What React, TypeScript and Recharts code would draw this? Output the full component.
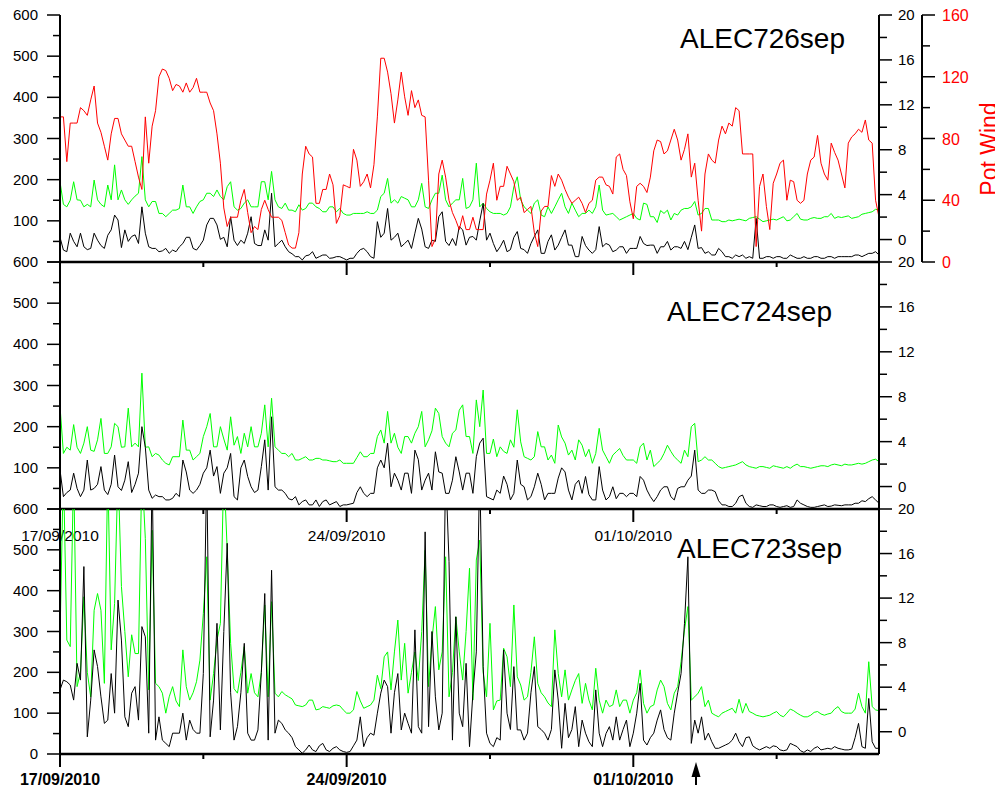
import React from "react";
import { LineChart, Line, XAxis, YAxis } from "recharts";

// one sample every 2 hours, starting 17/09/2010 00:00
const STEP_HOURS = 2;

const dateTicks = [0, 3.5, 7, 10.5, 14, 17.5];
const dateLabels: Record<number, string> = { 0: "17/09/2010", 7: "24/09/2010", 14: "01/10/2010" };
const leftTicks = [0, 50, 100, 150, 200, 250, 300, 350, 400, 450, 500, 550, 600];
const rightTicks = [0, 2, 4, 6, 8, 10, 12, 14, 16, 18, 20];
const windTicks = [0, 20, 40, 60, 80, 100, 120, 140, 160];

// ALEC726sep
const green726 = [
  195, 140, 134, 150, 195, 151, 150, 134, 140, 134, 199, 151, 140, 134, 187, 151, 236, 151, 175, 151,
  140, 151, 160, 167, 256, 151, 134, 147, 147, 118, 118, 110, 118, 126, 126, 130, 187, 134, 134, 118,
  134, 147, 151, 167, 167, 159, 175, 159, 151, 183, 195, 134, 126, 130, 143, 151, 134, 134, 134, 195,
  195, 151, 220, 151, 134, 130, 143, 126, 126, 122, 139, 126, 130, 143, 143, 134, 130, 122, 122, 134,
  134, 122, 130, 118, 114, 114, 118, 118, 118, 118, 122, 118, 118, 126, 159, 167, 203, 143, 151, 143,
  159, 155, 151, 134, 134, 151, 191, 134, 130, 151, 167, 167, 211, 151, 134, 143, 151, 151, 203, 130,
  134, 151, 240, 134, 143, 130, 122, 118, 118, 118, 114, 118, 134, 183, 207, 151, 134, 126, 118, 143,
  151, 114, 110, 134, 118, 134, 151, 167, 134, 118, 143, 126, 110, 118, 118, 126, 118, 134, 187, 126,
  114, 116, 118, 110, 102, 106, 110, 114, 118, 106, 102, 143, 140, 110, 110, 96, 125, 118, 126, 102,
  118, 114, 126, 130, 130, 134, 147, 114, 118, 130, 130, 102, 102, 102, 98, 98, 102, 100, 102, 104,
  102, 100, 106, 108, 110, 104, 98, 100, 102, 104, 102, 106, 110, 100, 102, 110, 118, 104, 102, 102,
  106, 108, 106, 106, 110, 110, 118, 106, 110, 108, 110, 112, 106, 108, 110, 116, 118, 120, 122, 128,
  126,
];
const black726 = [
  60, 29, 25, 70, 50, 37, 70, 37, 30, 33, 70, 53, 40, 33, 65, 78, 114, 102, 35, 78,
  50, 62, 66, 45, 134, 70, 37, 33, 33, 25, 27, 33, 21, 29, 25, 37, 45, 60, 60, 33,
  29, 40, 53, 90, 106, 106, 90, 55, 60, 37, 110, 53, 40, 53, 45, 70, 110, 45, 40, 40,
  78, 53, 167, 37, 45, 53, 37, 25, 20, 13, 13, 5, 15, 17, 25, 9, 13, 17, 17, 9,
  10, 13, 13, 9, 5, 9, 9, 21, 30, 33, 25, 13, 9, 98, 60, 70, 130, 53, 60, 70,
  37, 45, 53, 33, 70, 106, 80, 37, 33, 53, 50, 110, 122, 50, 40, 57, 40, 86, 78, 41,
  60, 62, 53, 100, 142, 53, 70, 45, 25, 37, 53, 25, 30, 60, 74, 33, 30, 21, 45, 62,
  78, 21, 21, 50, 66, 29, 41, 60, 78, 41, 41, 13, 13, 62, 40, 29, 21, 30, 86, 37,
  45, 41, 25, 29, 37, 37, 21, 33, 33, 33, 62, 45, 40, 41, 41, 21, 37, 37, 50, 29,
  37, 37, 33, 50, 30, 60, 90, 33, 35, 21, 25, 17, 17, 33, 25, 13, 13, 9, 17, 13,
  17, 9, 13, 9, 106, 9, 9, 13, 13, 9, 13, 13, 9, 9, 17, 13, 9, 9, 13, 9,
  9, 13, 13, 9, 9, 13, 13, 9, 13, 13, 13, 13, 13, 17, 17, 13, 17, 21, 21, 25,
  17,
];
const potWind726 = [
  94, 94, 65, 90, 90, 90, 100, 98, 95, 105, 114, 90, 84, 75, 66, 83, 93, 93, 83, 79,
  75, 75, 65, 55, 47, 94, 64, 88, 98, 120, 125, 124, 119, 111, 115, 114, 110, 116, 110, 113,
  119, 110, 110, 110, 103, 98, 83, 64, 35, 23, 29, 29, 29, 40, 47, 32, 19, 23, 21, 34,
  40, 34, 29, 29, 29, 27, 19, 11, 9, 9, 19, 57, 75, 70, 68, 38, 38, 47, 47, 57,
  50, 25, 30, 50, 49, 48, 73, 66, 49, 52, 57, 48, 63, 94, 132, 132, 123, 109, 90, 105,
  123, 107, 95, 111, 100, 105, 95, 94, 53, 10, 15, 57, 66, 55, 40, 32, 27, 21, 30, 21,
  21, 29, 21, 21, 21, 44, 53, 64, 40, 49, 49, 62, 57, 52, 40, 42, 32, 34, 36, 19,
  10, 33, 36, 36, 56, 49, 57, 53, 47, 42, 38, 40, 42, 38, 32, 38, 40, 53, 55, 55,
  50, 49, 44, 68, 70, 60, 56, 39, 28, 49, 51, 49, 45, 55, 72, 79, 78, 70, 72, 79,
  86, 79, 66, 73, 83, 55, 64, 40, 20, 57, 70, 66, 64, 79, 88, 83, 90, 88, 100, 98,
  70, 70, 70, 70, 10, 49, 57, 36, 21, 51, 57, 64, 66, 40, 53, 52, 40, 38, 40, 57,
  66, 68, 82, 64, 57, 53, 77, 71, 66, 57, 48, 77, 81, 83, 86, 84, 92, 79, 77, 40,
  29,
];

// ALEC724sep
const green724 = [
  250, 135, 150, 143, 205, 150, 135, 160, 200, 143, 140, 168, 220, 135, 135, 151, 208, 200, 150, 151,
  245, 151, 160, 151, 330, 150, 151, 127, 135, 131, 119, 111, 107, 127, 127, 127, 216, 143, 143, 119,
  127, 135, 176, 200, 232, 151, 151, 200, 170, 143, 224, 155, 176, 135, 184, 151, 200, 151, 151, 184,
  253, 151, 269, 151, 143, 135, 135, 127, 135, 119, 119, 123, 127, 119, 119, 123, 123, 119, 119, 117,
  115, 115, 119, 111, 111, 111, 111, 125, 139, 127, 127, 135, 135, 176, 192, 160, 237, 160, 184, 150,
  135, 176, 176, 160, 184, 200, 237, 151, 168, 190, 245, 232, 176, 160, 151, 184, 192, 240, 253, 176,
  176, 135, 265, 200, 289, 135, 135, 170, 127, 151, 140, 135, 168, 150, 241, 163, 127, 123, 119, 127,
  188, 151, 151, 119, 131, 111, 204, 175, 160, 131, 143, 119, 168, 155, 127, 145, 111, 135, 196, 143,
  127, 111, 131, 139, 147, 130, 119, 119, 119, 111, 151, 160, 119, 143, 103, 111, 119, 135, 155, 140,
  127, 119, 111, 143, 127, 200, 208, 115, 119, 127, 119, 119, 111, 103, 99, 101, 103, 105, 107, 111,
  115, 107, 103, 101, 99, 103, 103, 101, 99, 105, 103, 101, 99, 103, 99, 105, 109, 103, 103, 101,
  99, 101, 103, 105, 105, 103, 107, 109, 107, 105, 109, 107, 107, 109, 111, 109, 111, 115, 119, 121,
  115,
];
const black724 = [
  95, 30, 40, 46, 87, 50, 30, 46, 119, 46, 50, 60, 103, 46, 35, 60, 131, 54, 45, 70,
  115, 40, 60, 87, 200, 150, 46, 26, 34, 30, 30, 22, 22, 26, 38, 30, 119, 90, 46, 38,
  46, 60, 87, 100, 143, 80, 103, 38, 87, 100, 135, 30, 22, 100, 119, 79, 54, 40, 46, 103,
  168, 46, 224, 54, 46, 46, 38, 25, 22, 30, 10, 18, 22, 10, 10, 22, 6, 18, 22, 10,
  14, 18, 6, 10, 10, 12, 14, 40, 54, 38, 30, 38, 38, 100, 119, 100, 160, 54, 87, 70,
  46, 87, 87, 38, 143, 120, 46, 70, 87, 46, 139, 90, 87, 38, 38, 70, 127, 90, 46, 87,
  87, 38, 127, 160, 172, 30, 26, 22, 46, 38, 80, 60, 22, 38, 119, 60, 54, 22, 30, 54,
  87, 60, 22, 38, 38, 38, 75, 100, 90, 46, 22, 60, 70, 38, 79, 35, 22, 22, 103, 46,
  22, 30, 54, 25, 38, 38, 30, 38, 38, 30, 79, 70, 46, 30, 18, 30, 46, 54, 54, 30,
  22, 50, 54, 54, 70, 80, 143, 46, 38, 38, 46, 46, 42, 20, 10, 10, 6, 6, 14, 30,
  34, 14, 6, 4, 10, 8, 6, 6, 10, 10, 6, 4, 6, 8, 4, 6, 22, 14, 10, 6,
  4, 4, 6, 8, 10, 6, 7, 10, 9, 8, 10, 10, 10, 14, 14, 20, 18, 25, 30, 22,
  14,
];

// ALEC723sep
const green723 = [
  283, 700, 279, 263, 700, 165, 200, 385, 200, 140, 352, 393, 352, 173, 700, 255, 369, 700, 410, 300,
  189, 292, 246, 246, 700, 528, 157, 548, 173, 165, 149, 100, 140, 165, 130, 116, 255, 165, 132, 150,
  177, 230, 344, 483, 132, 197, 279, 320, 700, 500, 271, 160, 149, 200, 263, 149, 197, 150, 140, 200,
  365, 140, 373, 149, 140, 153, 145, 140, 135, 120, 118, 116, 120, 132, 132, 108, 110, 116, 114, 112,
  118, 120, 118, 108, 100, 100, 108, 153, 130, 112, 116, 120, 132, 193, 160, 238, 250, 157, 250, 328,
  181, 271, 149, 200, 250, 180, 300, 499, 165, 280, 361, 206, 250, 483, 140, 200, 336, 250, 181, 300,
  455, 132, 475, 524, 200, 140, 320, 108, 130, 132, 259, 238, 165, 365, 189, 169, 132, 140, 200, 287,
  173, 150, 140, 125, 116, 304, 197, 140, 206, 132, 157, 180, 197, 124, 173, 132, 108, 210, 132, 100,
  132, 116, 120, 157, 116, 132, 132, 100, 132, 150, 206, 124, 100, 116, 120, 157, 181, 165, 124, 108,
  149, 165, 226, 304, 361, 132, 140, 149, 165, 116, 132, 100, 95, 91, 100, 104, 108, 112, 100, 134,
  100, 124, 104, 100, 95, 93, 91, 93, 95, 100, 104, 95, 91, 100, 110, 106, 100, 95, 91, 91,
  95, 102, 104, 98, 95, 98, 100, 110, 116, 104, 100, 100, 100, 110, 149, 116, 100, 226, 116, 108,
  106,
];
const black723 = [
  157, 181, 177, 169, 132, 222, 181, 459, 42, 132, 255, 214, 140, 75, 83, 197, 100, 377, 279, 91,
  67, 149, 165, 83, 312, 287, 51, 700, 34, 91, 34, 26, 18, 51, 51, 51, 100, 34, 83, 60,
  51, 51, 197, 700, 42, 132, 320, 59, 300, 516, 150, 34, 67, 150, 271, 51, 34, 34, 59, 200,
  393, 34, 450, 51, 83, 75, 59, 51, 40, 18, 10, 2, 10, 22, 10, 6, 20, 26, 10, 6,
  14, 18, 10, 6, 4, 6, 20, 34, 91, 18, 40, 51, 46, 100, 149, 181, 165, 51, 150, 197,
  59, 100, 75, 51, 304, 67, 51, 544, 67, 300, 140, 59, 100, 700, 471, 34, 336, 100, 67, 222,
  18, 149, 250, 700, 214, 51, 26, 18, 40, 34, 255, 100, 60, 214, 59, 59, 34, 51, 150, 214,
  67, 60, 51, 34, 60, 206, 132, 14, 124, 40, 60, 116, 18, 83, 51, 30, 18, 157, 51, 18,
  50, 67, 34, 91, 34, 60, 83, 18, 51, 100, 173, 34, 22, 40, 51, 83, 108, 60, 40, 34,
  100, 150, 197, 320, 483, 26, 83, 51, 91, 34, 51, 30, 14, 14, 18, 22, 26, 34, 51, 30,
  18, 40, 42, 20, 14, 10, 14, 18, 14, 20, 18, 10, 8, 10, 26, 22, 18, 8, 4, 10,
  6, 14, 18, 10, 12, 14, 12, 18, 14, 12, 10, 10, 12, 40, 75, 18, 14, 136, 30, 14,
  14,
];

function build(cols: Record<string, number[]>) {
  const n = Object.values(cols)[0].length;
  const rows: any[] = [];
  for (let i = 0; i < n; i++) {
    const row: any = { t: (i * STEP_HOURS) / 24 };
    for (const k in cols) row[k] = cols[k][i];
    rows.push(row);
  }
  return rows;
}

const data726 = build({ g: green726, k: black726, r: potWind726 });
const data724 = build({ g: green724, k: black724 });
const data723 = build({ g: green723, k: black723 });

const FONT = "'Liberation Sans', Arial, sans-serif";
const axisLine = { stroke: "#000", strokeWidth: 2 };

const leftTick = (showZero: boolean) => (props: any) => {
  const { x, y, payload } = props;
  const v = payload.value;
  const major = v % 100 === 0;
  const len = major ? 13 : 7;
  return (
    <g>
      <line x1={x - len} x2={x} y1={y} y2={y} stroke="#000" strokeWidth={1.5} />
      {major && (v !== 0 || showZero) && (
        <text x={x - 22} y={y} dy={5} textAnchor="end" fontSize={15} fontFamily={FONT} fill="#000">
          {v}
        </text>
      )}
    </g>
  );
};

const rightTick = (props: any) => {
  const { x, y, payload } = props;
  const v = payload.value;
  const major = v % 4 === 0;
  const len = major ? 13 : 8;
  return (
    <g>
      <line x1={x} x2={x + len} y1={y} y2={y} stroke="#000" strokeWidth={1.5} />
      {major && (
        <text x={x + 19} y={y} dy={5} textAnchor="start" fontSize={15} fontFamily={FONT} fill="#000">
          {v}
        </text>
      )}
    </g>
  );
};

const windTick = (props: any) => {
  const { x, y, payload } = props;
  const v = payload.value;
  const major = v % 40 === 0;
  const len = major ? 13 : 8;
  return (
    <g>
      <line x1={x} x2={x + len} y1={y} y2={y} stroke="#000" strokeWidth={1.5} />
      {major && (
        <text x={x + 20} y={y} dy={6} textAnchor="start" fontSize={16} fontFamily={FONT} fill="#ff0000">
          {v}
        </text>
      )}
    </g>
  );
};

const dateTick = (mode: "none" | "plain" | "bold") => (props: any) => {
  const { x, y, payload } = props;
  const v = payload.value;
  const label = dateLabels[v];
  const len = label ? 13 : 5;
  return (
    <g>
      <line x1={x} x2={x} y1={y} y2={y + len} stroke="#000" strokeWidth={2} />
      {label && mode !== "none" && (
        <text
          x={x}
          y={y + (mode === "bold" ? 31 : 32)}
          textAnchor="middle"
          fontSize={mode === "bold" ? 16 : 15.5}
          fontWeight={mode === "bold" ? "bold" : "normal"}
          fontFamily={FONT}
          fill="#000"
        >
          {label}
        </text>
      )}
    </g>
  );
};

function Panel({
  data,
  top,
  height,
  withWind,
  labels,
  showZero,
  clip,
}: {
  data: any[];
  top: number;
  height: number;
  withWind: boolean;
  labels: "none" | "plain" | "bold";
  showZero: boolean;
  clip: boolean;
}) {
  return (
    <div style={{ position: "absolute", left: 0, top }}>
      <LineChart
        width={1003}
        height={height}
        data={data}
        margin={{ top: 15, right: withWind ? 0 : 81, left: 8, bottom: 8 }}
      >
        <XAxis
          dataKey="t"
          type="number"
          domain={[0, 20]}
          ticks={dateTicks}
          interval={0}
          height={30}
          tickSize={0}
          tickMargin={0}
          tickLine={false}
          axisLine={{ stroke: "#000", strokeWidth: 2.5 }}
          tick={dateTick(labels)}
        />
        <YAxis
          yAxisId="left"
          domain={[0, 600]}
          ticks={leftTicks}
          interval={0}
          width={52}
          allowDataOverflow={clip}
          tickSize={0}
          tickMargin={0}
          tickLine={false}
          axisLine={axisLine}
          tick={leftTick(showZero)}
        />
        <YAxis
          yAxisId="right"
          orientation="right"
          domain={[-2, 20]}
          ticks={rightTicks}
          interval={0}
          width={43}
          allowDataOverflow
          tickSize={0}
          tickMargin={0}
          tickLine={false}
          axisLine={axisLine}
          tick={rightTick}
        />
        {withWind && (
          <YAxis
            yAxisId="wind"
            orientation="right"
            domain={[0, 160]}
            ticks={windTicks}
            interval={0}
            width={81}
            tickSize={0}
            tickMargin={0}
            tickLine={false}
            axisLine={axisLine}
            tick={windTick}
          />
        )}
        {/* keeps the secondary axis scaled; draws nothing */}
        <Line
          yAxisId="right"
          dataKey="k"
          stroke="none"
          dot={false}
          activeDot={false}
          legendType="none"
          isAnimationActive={false}
        />
        <Line
          yAxisId="left"
          dataKey="g"
          type="linear"
          stroke="#00ff00"
          strokeWidth={1}
          dot={false}
          isAnimationActive={false}
        />
        <Line
          yAxisId="left"
          dataKey="k"
          type="linear"
          stroke="#000000"
          strokeWidth={1}
          dot={false}
          isAnimationActive={false}
        />
        {withWind && (
          <Line
            yAxisId="wind"
            dataKey="r"
            type="linear"
            stroke="#ff0000"
            strokeWidth={1}
            dot={false}
            isAnimationActive={false}
          />
        )}
      </LineChart>
    </div>
  );
}

export default function App() {
  return (
    <div
      style={{
        position: "relative",
        width: 1003,
        height: 793,
        margin: -8,
        background: "#fff",
        fontFamily: FONT,
        overflow: "hidden",
      }}
    >
      <Panel data={data726} top={0} height={300} withWind labels="none" showZero={false} clip={false} />
      <Panel data={data724} top={247} height={300} withWind={false} labels="plain" showZero={false} clip={false} />
      <Panel data={data723} top={494} height={298} withWind={false} labels="bold" showZero clip />
      <svg
        width={1003}
        height={793}
        style={{ position: "absolute", left: 0, top: 0, pointerEvents: "none" }}
      >
        <text x={680} y={48} fontSize={28} fontFamily={FONT} fill="#000">ALEC726sep</text>
        <text x={667} y={321} fontSize={28} fontFamily={FONT} fill="#000">ALEC724sep</text>
        <text x={677} y={558} fontSize={28} fontFamily={FONT} fill="#000">ALEC723sep</text>
        <text
          transform="translate(997,149) rotate(-90)"
          textAnchor="middle"
          fontSize={23}
          fontFamily={FONT}
          fill="#ff0000"
        >
          Pot Wind
        </text>
        <line x1={696} x2={696} y1={776} y2={789} stroke="#000" strokeWidth={2} />
        <polygon points="691.5,777 696,762 700.5,777" fill="#000" />
      </svg>
    </div>
  );
}
